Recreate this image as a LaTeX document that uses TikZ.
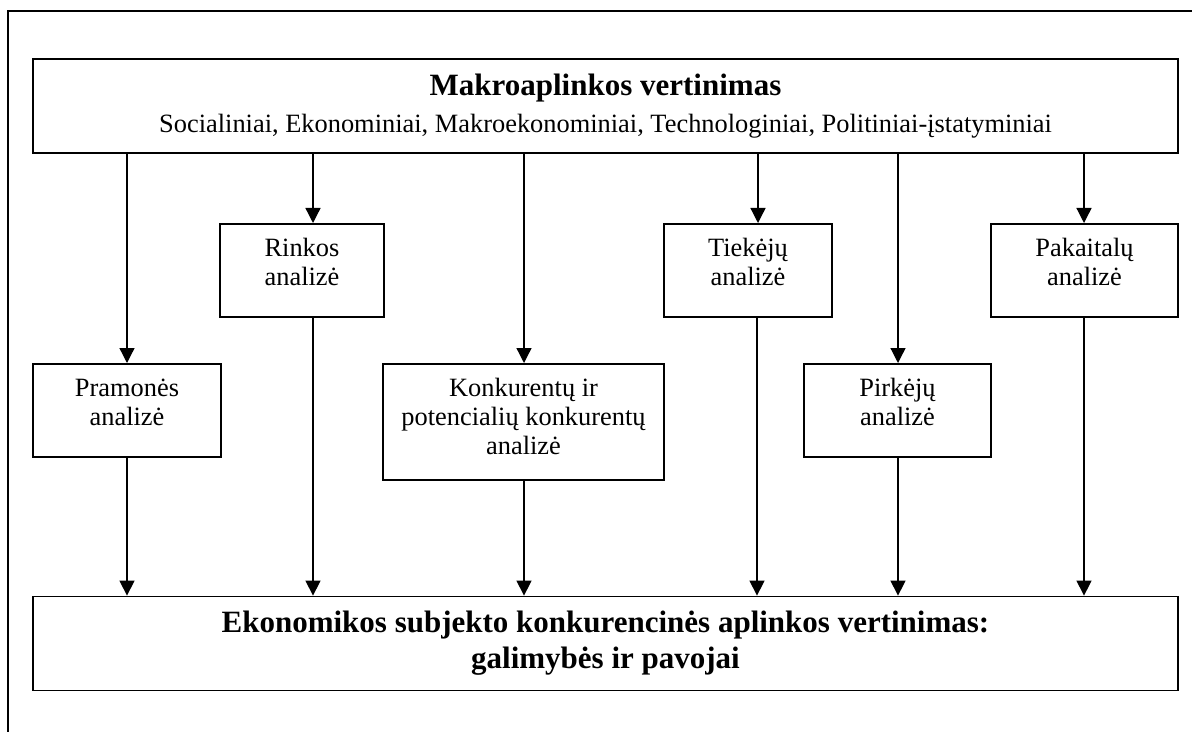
\documentclass[tikz,border=0pt]{standalone}
\usepackage{fontspec}
\setmainfont{Liberation Serif}
\usetikzlibrary{positioning,arrows.meta}

\tikzset{
  anal/.style={draw, line width=0.9pt, align=center, anchor=north, inner xsep=0pt, inner ysep=6.5pt, text height=24.4pt, text depth=9.1pt},
  wide/.style={draw, line width=0.9pt, align=center, minimum width=572.5pt, minimum height=47pt, inner sep=0pt},
  arr/.style={->, line width=0.65pt},
}

\begin{document}
\begin{tikzpicture}[x=0.5pt, y=-0.5pt, >={Triangle[width=7.5pt,length=7.5pt]}, every node/.style={font=\fontsize{13.2}{14.5}\selectfont}]
  \useasboundingbox (0,0) rectangle (1192,732);
  % frame
  \draw[line width=1pt] (8,732) -- (8,11) -- (1192,11);
  % top and bottom boxes
  \node[wide] (makro) at (605.5,106) {{\fontsize{15.5}{17}\selectfont\bfseries Makroaplinkos vertinimas}\\[4pt]
    Socialiniai, Ekonominiai, Makroekonominiai, Technologiniai, Politiniai-įstatyminiai};
  \node[wide, font=\fontsize{15.5}{18}\selectfont\bfseries] (vert) at (605.5,643.5)
    {Ekonomikos subjekto konkurencinės aplinkos vertinimas:\\galimybės ir pavojai};
  % upper row
  \node[anal, minimum width=82pt] (rink) at (302,223) {Rinkos\\analizė};
  \node[anal, minimum width=84pt] (tiek) at (748,223) {Tiekėjų\\analizė};
  \node[anal, minimum width=93.5pt] (pak) at (1084.5,223) {Pakaitalų\\analizė};
  % lower row
  \node[anal, minimum width=94pt] (pram) at (127,363) {Pramonės\\analizė};
  \node[anal, minimum width=140.5pt, text height=38.9pt, text depth=6.1pt] (konk) at (523.5,363) {Konkurentų ir\\potencialių konkurentų\\analizė};
  \node[anal, minimum width=93.5pt] (pirk) at (897.5,363) {Pirkėjų\\analizė};
  % arrows
  \foreach \n/\x/\y in {pram/127/127, rink/313/313, konk/524/524, tiek/758/757, pirk/898/898, pak/1084/1084} {
    \draw[arr] (makro.south -| \x,0) -- (\n.north -| \x,0);
    \draw[arr] (\n.south -| \y,0) -- (vert.north -| \y,0);
  }
\end{tikzpicture}
\end{document}
